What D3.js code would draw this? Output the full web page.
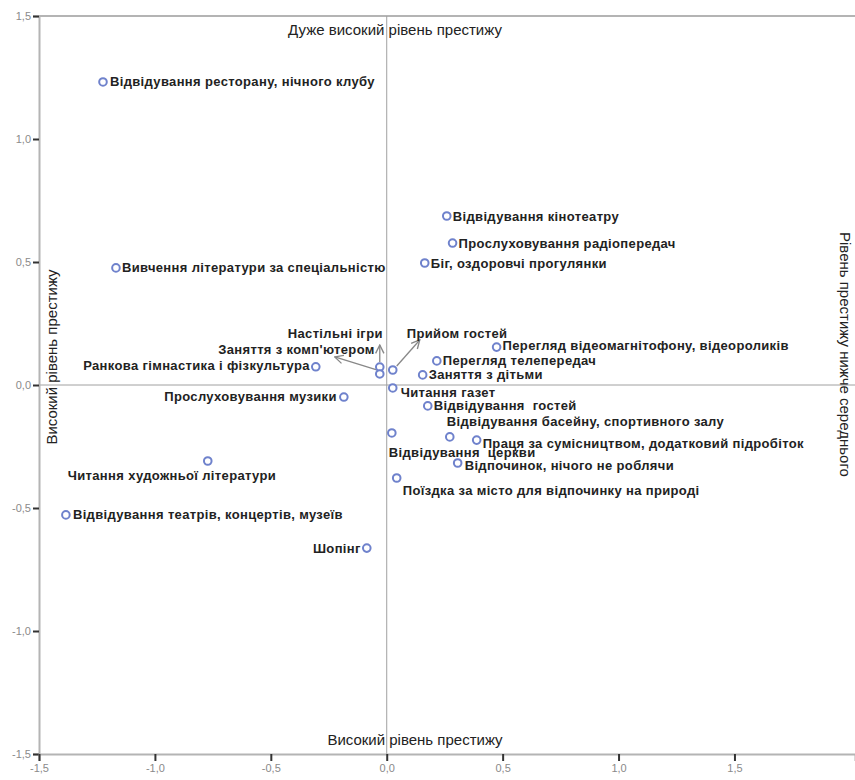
<!DOCTYPE html>
<html>
<head>
<meta charset="utf-8">
<script src="https://cdn.jsdelivr.net/npm/d3@7"></script>
<style>
  body { margin: 0; background: #fff; }
  svg { display: block; }
</style>
</head>
<body>
<div id="chart"></div>
<script>
// categories (activities)
var activities = [
  "Відвідування ресторану, нічного клубу",
  "Вивчення літератури за спеціальністю",
  "Відвідування кінотеатру",
  "Прослуховування радіопередач",
  "Біг, оздоровчі прогулянки",
  "Перегляд відеомагнітофону, відеороликів",
  "Перегляд телепередач",
  "Заняття з дітьми",
  "Ранкова гімнастика і фізкультура",
  "Настільні ігри",
  "Заняття з комп'ютером",
  "Прийом гостей",
  "Читання газет",
  "Прослуховування музики",
  "Відвідування  гостей",
  "Відвідування  церкви",
  "Відвідування басейну, спортивного залу",
  "Праця за сумісництвом, додатковий підробіток",
  "Відпочинок, нічого не роблячи",
  "Поїздка за місто для відпочинку на природі",
  "Читання художньої літератури",
  "Відвідування театрів, концертів, музеїв",
  "Шопінг"
];
// dimension 1 / dimension 2 values
var dim1 = [-1.224, -1.168, 0.259, 0.284, 0.164, 0.474, 0.216, 0.155, -0.306, -0.030, -0.030, 0.026,
            0.026, -0.185, 0.177, 0.022, 0.272, 0.388, 0.306, 0.043, -0.772, -1.384, -0.086];
var dim2 = [1.232, 0.476, 0.687, 0.577, 0.496, 0.154, 0.098, 0.041, 0.074, 0.073, 0.045, 0.061,
            -0.012, -0.049, -0.085, -0.195, -0.211, -0.224, -0.317, -0.378, -0.309, -0.528, -0.663];
// tick labels
var xTicks = [-1.5, -1.0, -0.5, 0.0, 0.5, 1.0, 1.5];
var yTicks = [-1.5, -1.0, -0.5, 0.0, 0.5, 1.0, 1.5];
// quadrant captions
var captionTop = "Дуже високий рівень престижу";
var captionBottom = "Високий рівень престижу";
var captionLeft = "Високий рівень престижу";
var captionRight = "Рівень престижу нижче середнього";

// label placement: [dx, dy, anchor, arrow]  (px offsets from the marker)
var labelPlace = [
  [7, 0, "start"], [6, 0, "start"], [6, 0, "start"], [6, 0, "start"], [6, 0, "start"],
  [6, -2, "start"], [6, 0, "start"], [6, 0, "start"], [-6, -1, "end"],
  [3, -34, "end", [0, -5, 0, -22]],
  [-5, -24, "end", [-3, -4, -45, -17]],
  [14, -37, "start", [4, -4, 27, -30]],
  [8, 4, "start"], [-7, -1, "end"], [6, 0, "start"], [-3, 19, "start"],
  [-3, -15, "start"], [6, 3, "start"], [7, 2, "start"], [6, 12, "start"],
  [-140, 14, "start"], [7, 0, "start"], [-6, 0, "end"]
];

var points = activities.map(function(d, i) {
  return {name: d, d1: dim1[i], d2: dim2[i], place: labelPlace[i]};
});

var width = 855, height = 780;
var svg = d3.select("#chart").append("svg")
  .attr("width", width)
  .attr("height", height);

var x = d3.scaleLinear().domain([-1.5, 2.02]).range([39, 855]);
var y = d3.scaleLinear().domain([-1.5, 1.5]).range([754, 16]);

var fmt = function(v) { return d3.format(".1f")(v).replace(".", ",").replace("\u2212", "-"); };

// top frame line
svg.append("line")
  .attr("x1", x(-1.5)).attr("x2", width)
  .attr("y1", y(1.5)).attr("y2", y(1.5))
  .style("stroke", "#b4b4b4").style("stroke-width", 2);

// reference lines through zero
svg.append("line")
  .attr("x1", x(0)).attr("x2", x(0))
  .attr("y1", y(1.5)).attr("y2", y(-1.5))
  .style("stroke", "#a0a0a0").style("stroke-width", 1);
svg.append("line")
  .attr("x1", x(-1.5)).attr("x2", width)
  .attr("y1", y(0)).attr("y2", y(0))
  .style("stroke", "#a0a0a0").style("stroke-width", 1);

// Y axis
var yAxis = svg.append("g")
  .attr("transform", "translate(" + x(-1.5) + ",0)")
  .call(d3.axisLeft(y).tickValues(yTicks).tickFormat(fmt).tickSize(6).tickPadding(2));
yAxis.select(".domain").style("stroke", "#b4b4b4").style("stroke-width", 2);
yAxis.selectAll(".tick line").style("stroke", "#333").style("stroke-width", 2);
yAxis.selectAll(".tick text")
  .style("font-family", "Liberation Sans, Arial, sans-serif")
  .style("font-size", "11px").style("fill", "#8a8a8a");

// X axis
var xAxis = svg.append("g")
  .attr("transform", "translate(0," + y(-1.5) + ")")
  .call(d3.axisBottom(x).tickValues(xTicks).tickFormat(fmt).tickSize(7).tickPadding(3));
xAxis.select(".domain").style("stroke", "#b4b4b4").style("stroke-width", 2);
xAxis.selectAll(".tick line").style("stroke", "#333").style("stroke-width", 2);
xAxis.selectAll(".tick text")
  .style("font-family", "Liberation Sans, Arial, sans-serif")
  .style("font-size", "11px").style("fill", "#8a8a8a");

// quadrant captions
var capFont = "Liberation Sans, Arial, sans-serif";
svg.append("text")
  .attr("x", 395).attr("y", 35)
  .attr("text-anchor", "middle")
  .style("font-family", capFont).style("font-size", "15px").style("fill", "#222")
  .text(captionTop);
svg.append("text")
  .attr("x", 415).attr("y", 745)
  .attr("text-anchor", "middle")
  .style("font-family", capFont).style("font-size", "15px").style("fill", "#222")
  .text(captionBottom);
svg.append("text")
  .attr("transform", "translate(57,357) rotate(-90)")
  .attr("text-anchor", "middle")
  .style("font-family", capFont).style("font-size", "15px").style("fill", "#222")
  .text(captionLeft);
svg.append("text")
  .attr("transform", "translate(840,232) rotate(90)")
  .attr("text-anchor", "start")
  .style("font-family", capFont).style("font-size", "15px").style("fill", "#222")
  .text(captionRight);

// arrow marker
svg.append("defs").append("marker")
  .attr("id", "arrow")
  .attr("viewBox", "0 0 10 10")
  .attr("refX", 9).attr("refY", 5)
  .attr("markerWidth", 8).attr("markerHeight", 8)
  .attr("orient", "auto")
  .append("path")
  .attr("d", "M1,1 L9,5 L1,9")
  .style("fill", "none").style("stroke", "#888").style("stroke-width", 1.3);

var pts = points.filter(function(d) { return d.place[3]; });
svg.append("g").selectAll("line")
  .data(pts)
  .enter()
  .append("line")
    .attr("x1", function(d) { return x(d.d1) + d.place[3][0]; })
    .attr("y1", function(d) { return y(d.d2) + d.place[3][1]; })
    .attr("x2", function(d) { return x(d.d1) + d.place[3][2]; })
    .attr("y2", function(d) { return y(d.d2) + d.place[3][3]; })
    .attr("marker-end", "url(#arrow)")
    .style("stroke", "#888").style("stroke-width", 1.3);

// dots
svg.append("g")
  .selectAll("circle")
  .data(points)
  .enter()
  .append("circle")
    .attr("cx", function(d) { return x(d.d1); })
    .attr("cy", function(d) { return y(d.d2); })
    .attr("r", 3.8)
    .style("fill", "#fff")
    .style("stroke", "#6f82cc")
    .style("stroke-width", 2);

// labels
svg.append("g")
  .selectAll("text")
  .data(points)
  .enter()
  .append("text")
    .attr("x", function(d) { return x(d.d1) + d.place[0]; })
    .attr("y", function(d) { return y(d.d2) + d.place[1]; })
    .attr("dy", "0.35em")
    .attr("text-anchor", function(d) { return d.place[2]; })
    .style("font-family", "Liberation Sans, Arial, sans-serif")
    .style("font-weight", "bold")
    .style("font-size", "13px")
    .style("letter-spacing", "0.35px")
    .style("fill", "#222")
    .style("white-space", "pre")
    .text(function(d) { return d.name; });
</script>
</body>
</html>
